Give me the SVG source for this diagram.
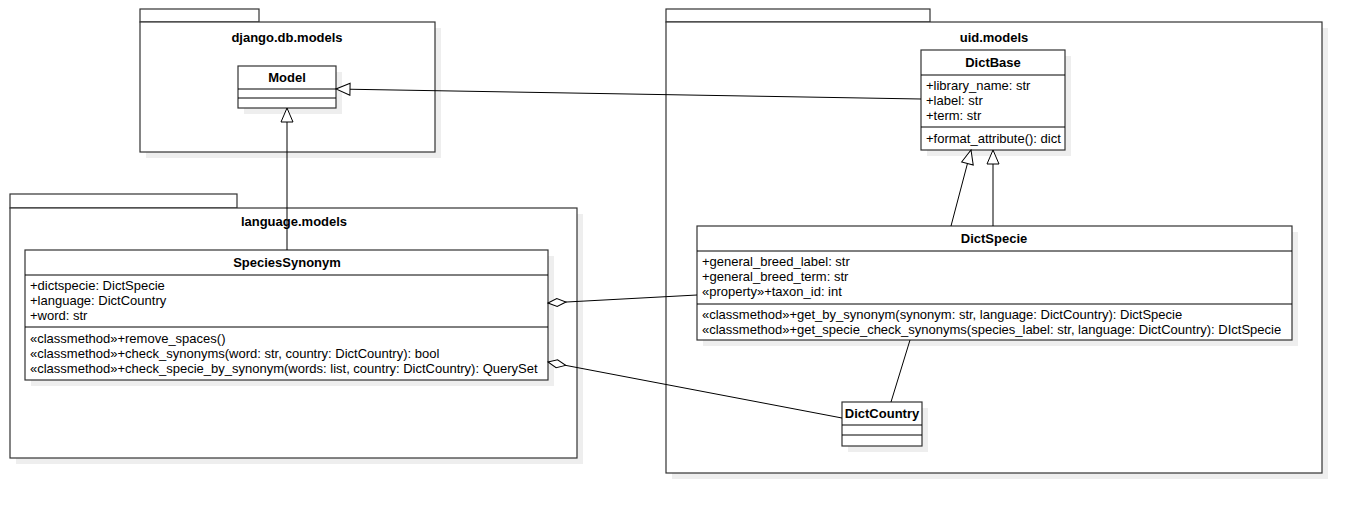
<svg xmlns="http://www.w3.org/2000/svg" width="1362" height="514" viewBox="0 0 1362 514">
<style>
.b{fill:#fff;stroke:#333;stroke-width:1.2}
.sh{fill:#eee}
.c{stroke:#000;stroke-width:1;fill:none}
text{font-family:"Liberation Sans",Arial,sans-serif;font-size:13px;fill:#000}
.t{font-weight:bold;text-anchor:middle}
</style>
<defs>
<marker id="tri" markerWidth="16" markerHeight="14" refX="15" refY="7" orient="auto" markerUnits="userSpaceOnUse"><path d="M1,1 L15,7 L1,13 Z" fill="#fff" stroke="#000"/></marker>
<marker id="dia" markerWidth="22" markerHeight="12" refX="1" refY="6" orient="auto" markerUnits="userSpaceOnUse"><path d="M1,6 L10,2 L19,6 L10,10 Z" fill="#fff" stroke="#000"/></marker>
</defs>
<g id="pkg-django">
<rect class="sh" x="146" y="28" width="295" height="130"/>
<rect class="b" x="140" y="9" width="119" height="13"/>
<rect class="b" x="140" y="22" width="295" height="130"/>
<text class="t" x="287" y="42">django.db.models</text>
</g>
<g id="pkg-uid">
<rect class="sh" x="672" y="28" width="656" height="451"/>
<rect class="b" x="666" y="9" width="264" height="13"/>
<rect class="b" x="666" y="22" width="656" height="451"/>
<text class="t" x="994" y="42">uid.models</text>
</g>
<g id="pkg-language">
<rect class="sh" x="16" y="214" width="567" height="250"/>
<rect class="b" x="10" y="194" width="227" height="14"/>
<rect class="b" x="10" y="208" width="567" height="250"/>
<text class="t" x="294" y="226">language.models</text>
</g>
<g id="Model">
<rect class="sh" x="244" y="72" width="98" height="42"/>
<rect class="b" x="238" y="66" width="98" height="42"/>
<path class="c" d="M238,89H336M238,98H336"/>
<text class="t" x="287" y="82">Model</text>
</g>
<g id="DictBase">
<rect class="sh" x="927" y="56" width="144" height="100"/>
<rect class="b" x="921" y="50" width="144" height="100"/>
<path class="c" d="M921,75H1065M921,127H1065"/>
<text class="t" x="993" y="67">DictBase</text>
<text x="926" y="90">+library_name: str</text>
<text x="926" y="105">+label: str</text>
<text x="926" y="120">+term: str</text>
<text x="926" y="143">+format_attribute(): dict</text>
</g>
<g id="DictSpecie">
<rect class="sh" x="703" y="232" width="595" height="114"/>
<rect class="b" x="697" y="226" width="595" height="114"/>
<path class="c" d="M697,251H1292M697,304H1292"/>
<text class="t" x="994" y="243">DictSpecie</text>
<text x="702" y="266">+general_breed_label: str</text>
<text x="702" y="281">+general_breed_term: str</text>
<text x="702" y="296">«property»+taxon_id: int</text>
<text x="702" y="319">«classmethod»+get_by_synonym(synonym: str, language: DictCountry): DictSpecie</text>
<text x="702" y="334">«classmethod»+get_specie_check_synonyms(species_label: str, language: DictCountry): DIctSpecie</text>
</g>
<g id="SpeciesSynonym">
<rect class="sh" x="31" y="256" width="523" height="130"/>
<rect class="b" x="25" y="250" width="523" height="130"/>
<path class="c" d="M25,275H548M25,327H548"/>
<text class="t" x="287" y="267">SpeciesSynonym</text>
<text x="30" y="290">+dictspecie: DictSpecie</text>
<text x="30" y="305">+language: DictCountry</text>
<text x="30" y="320">+word: str</text>
<text x="30" y="343">«classmethod»+remove_spaces()</text>
<text x="30" y="358">«classmethod»+check_synonyms(word: str, country: DictCountry): bool</text>
<text x="30" y="373">«classmethod»+check_specie_by_synonym(words: list, country: DictCountry): QuerySet</text>
</g>
<g id="DictCountry">
<rect class="sh" x="848" y="408" width="80" height="44"/>
<rect class="b" x="842" y="402" width="80" height="44"/>
<path class="c" d="M842,425H922M842,435H922"/>
<text class="t" x="882" y="418">DictCountry</text>
</g>
<g id="connectors">
<path class="c" d="M921,99L336,89" marker-end="url(#tri)"/>
<path class="c" d="M287,250V108" marker-end="url(#tri)"/>
<path class="c" d="M951,226L971,150" marker-end="url(#tri)"/>
<path class="c" d="M993,226V150" marker-end="url(#tri)"/>
<path class="c" d="M548,303L697,295" marker-start="url(#dia)"/>
<path class="c" d="M548,362L842,418" marker-start="url(#dia)"/>
<path class="c" d="M910,340L891,402"/>
</g>
</svg>
